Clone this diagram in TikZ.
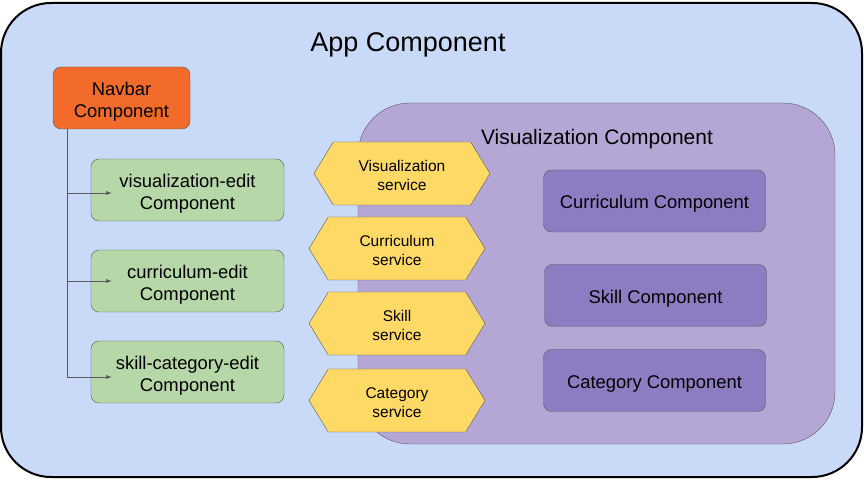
\documentclass[tikz,border=0pt]{standalone}
\usepackage{fontspec}
\setmainfont{Liberation Sans}
\usetikzlibrary{shapes.symbols,arrows.meta}
\definecolor{appblue}{HTML}{C9DAF8}
\definecolor{vizpurple}{HTML}{B4A7D6}
\definecolor{cmppurple}{HTML}{8E7CC3}
\definecolor{editgreen}{HTML}{B6D7A8}
\definecolor{srvyellow}{HTML}{FFD966}
\definecolor{navorange}{HTML}{F26B2A}
\definecolor{edgegray}{HTML}{595959}
\newcommand\lift[1]{\rule{0pt}{#1}}
\begin{document}
\begin{tikzpicture}[x=1pt, y=1pt,
  lowtext/.style = {execute at begin node={\rule{0pt}{1.05em}}},
  box/.style = {draw=edgegray, rounded corners=8pt, minimum width=193pt, minimum height=62pt, align=center, font=\fontsize{18.4}{22}\selectfont},
  cmp/.style = {box, lowtext, fill=cmppurple, minimum width=222pt},
  service/.style = {shape=signal, signal to=west and east, signal pointer angle=117, draw=edgegray, fill=srvyellow, minimum width=176pt, minimum height=63pt, inner sep=0pt, align=center, font=\fontsize{15.5}{19}\selectfont},
  link/.style = {edgegray, line width=0.8pt, -{Latex[length=6pt, width=4pt]}}]
\useasboundingbox (0,0) rectangle (864,479);
% outer and inner frames
\draw[line width=2pt, fill=appblue, rounded corners=50pt] (1,2) rectangle (862,476);
\node[lowtext, font=\fontsize{27}{30}\selectfont] (app) at (408,438.5) {App Component};
\draw[edgegray, fill=vizpurple, rounded corners=52pt] (358,35) rectangle (835,376);
\node[lowtext, font=\fontsize{21}{24}\selectfont] (viz) at (597,343) {Visualization Component};
% left column
\node[box, fill=navorange, minimum width=137pt] (nav) at (121.5,381) {\lift{20.5pt}Navbar\\Component};
\node[box, fill=editgreen] (vedit) at (187.5,289) {\lift{20.5pt}visualization-edit\\Component};
\node[box, fill=editgreen] (cedit) at (187.5,198) {\lift{20.5pt}curriculum-edit\\Component};
\node[box, fill=editgreen] (sedit) at (187.5,107) {\lift{20.5pt}skill-category-edit\\Component};
% services
\node[service] (vsrv) at (402,305.5) {\lift{15.7pt}Visualization\\service};
\node[service] (csrv) at (397,230.5) {\lift{15.7pt}Curriculum\\service};
\node[service] (ssrv) at (397,155.5) {\lift{15.7pt}Skill\\service};
\node[service] (gsrv) at (397,78.5) {\lift{15.7pt}Category\\service};
% inner components
\node[cmp] (ccmp) at (654.5,278) {Curriculum Component};
\node[cmp] (scmp) at (655.5,183.5) {Skill Component};
\node[cmp] (gcmp) at (654.5,98.5) {Category Component};
% navbar links
\coordinate (top) at (nav.south -| 67,0);
\coordinate (t1) at (67,286);
\coordinate (t2) at (67,198);
\coordinate (t3) at (67,102);
\draw[edgegray, line width=0.8pt] (top) -- (t3);
\foreach \t in {t1,t2,t3}
\draw[link] (\t) -- ++(45,0);
\end{tikzpicture}
\end{document}
